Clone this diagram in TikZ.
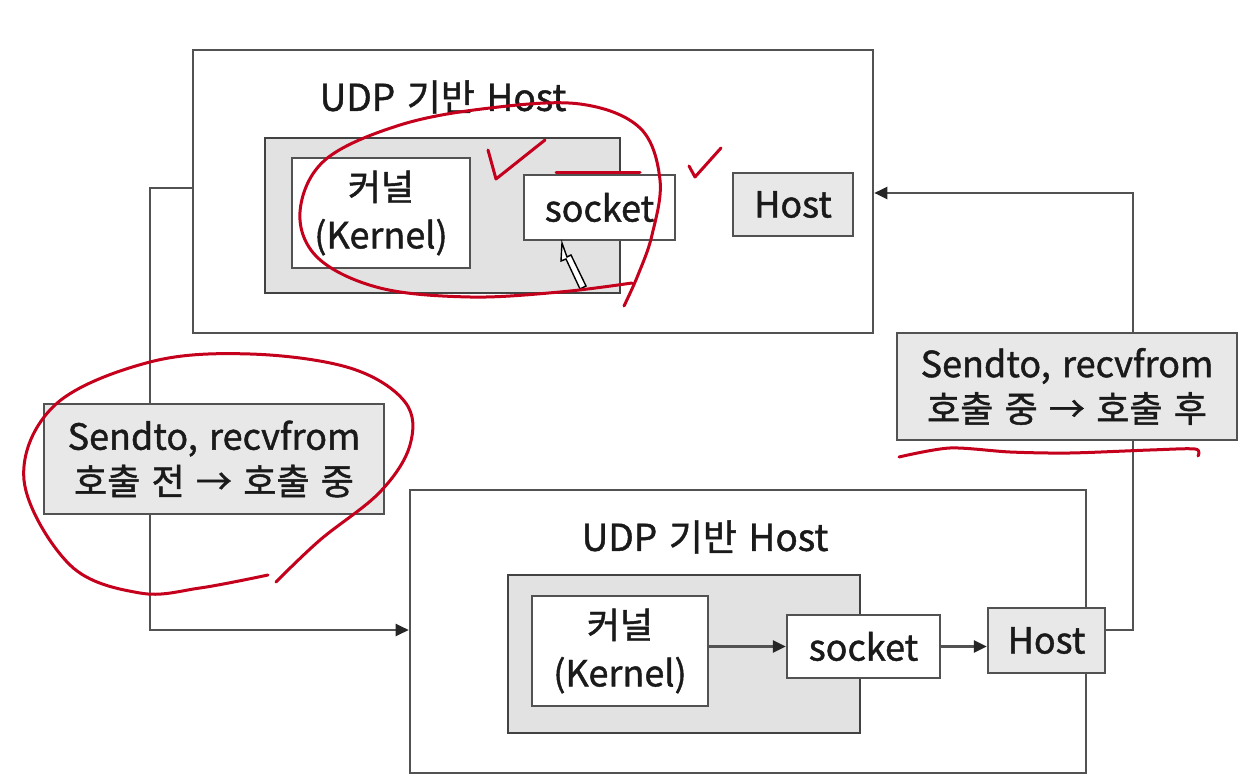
\documentclass[tikz,border=0pt]{standalone}
\usepackage{fontspec}
\setmainfont{Noto Sans CJK KR}[FakeBold=1.2, WordSpace=1.4]
\usetikzlibrary{arrows.meta}
\definecolor{edge}{HTML}{525252}
\definecolor{boxgray}{HTML}{E8E8E8}
\definecolor{areagray}{HTML}{E2E2E2}
\definecolor{ink}{HTML}{C4001C}
\definecolor{txt}{HTML}{1A1A1A}
\tikzset{
  outerbox/.style={draw=edge, line width=2.6pt, fill=white, inner sep=0pt},
  areabox/.style={draw=edge!80!black, line width=2.6pt, fill=areagray, inner sep=0pt},
  whitebox/.style={draw=edge, line width=2.3pt, fill=white, inner sep=0pt, text=txt,
    font=\fontsize{36}{48}\selectfont, align=center},
  graybox/.style={draw=edge, line width=2.3pt, fill=boxgray, inner sep=0pt, text=txt,
    font=\fontsize{36}{48}\selectfont, align=center},
  labelbox/.style={draw=edge, line width=2.3pt, fill=boxgray, inner sep=0pt, text=txt,
    font=\fontsize{36}{45}\selectfont, align=center},
  titletext/.style={inner sep=0pt, text=txt, font=\fontsize{37}{42}\selectfont},
  conn/.style={draw=edge, line width=2.5pt},
  arr/.style={conn, -{Triangle[length=13pt,width=12pt,color=black!85,fill=black!85]}},
  redink/.style={draw=ink, line width=3pt, line cap=round, line join=round}
}
\begin{document}
\begin{tikzpicture}[x=1pt,y=-1pt]
\useasboundingbox (0,0) rectangle (1243,783);
\fill[white] (0,0) rectangle (1243,783);

% connector corner coordinates
\coordinate (lTop) at (150,188);
\coordinate (lBot) at (150,630);
\coordinate (rTop) at (1133,193);
\coordinate (rBot) at (1133,630);

% ---------- top host ----------
\node[outerbox, minimum width=680pt, minimum height=283pt] (topbox) at (533,191.5) {};
\node[titletext] (title1) at (443,97) {UDP 기반 Host};
\node[areabox, minimum width=355pt, minimum height=155pt] (area1) at (442.5,215.5) {};
\node[whitebox, minimum width=178pt, minimum height=110pt] (kern1) at (381,213) {커널\\(Kernel)};
\node[whitebox, minimum width=151pt, minimum height=65pt] (sock1) at (599.5,207.5) {socket};
\node[graybox, minimum width=120pt, minimum height=63pt] (host1) at (793,204.5) {Host};

% ---------- bottom host ----------
\node[outerbox, minimum width=676pt, minimum height=283pt] (botbox) at (748,631.5) {};
\node[titletext] (title2) at (705,537) {UDP 기반 Host};
\node[areabox, minimum width=352pt, minimum height=158pt] (area2) at (684,654) {};
\node[whitebox, minimum width=176pt, minimum height=110pt] (kern2) at (620,651) {커널\\(Kernel)};
\node[whitebox, minimum width=153pt, minimum height=63pt] (sock2) at (863.5,646.5) {socket};
\node[graybox, minimum width=117pt, minimum height=65pt] (host2) at (1046.5,640.5) {Host};

% ---------- connectors ----------
\draw[arr] (lTop -| topbox.west) -- (lTop) -- (lBot) -- (lBot -| botbox.west);
\draw[arr] (rBot -| host2.east) -- (rBot) -- (rTop) -- (rTop -| topbox.east);
\draw[arr] (kern2.east |- sock2.west) -- (sock2.west);
\draw[arr] (sock2.east) -- (host2.west |- sock2.east);

% ---------- labels ----------
\node[labelbox, minimum width=340pt, minimum height=110pt] (lab1) at (214,459)
  {Sendto, recvfrom\\호출 전 → 호출 중};
\node[labelbox, minimum width=340pt, minimum height=107pt] (lab2) at (1067,386.5)
  {Sendto, recvfrom\\호출 중 → 호출 후};

% ---------- pen cursor ----------
\draw[black, line width=1.4pt, fill=white] (562,243) -- (567,257) -- (571,255) -- (586,286) -- (580,289) -- (566,259) -- (561,261) -- cycle;

% ---------- red handwriting ----------
\draw[redink] plot[smooth, tension=0.6] coordinates {(632,283) (560,292) (470,297) (380,288) (318,258) (300,212) (325,160) (400,125) (490,108) (580,104) (640,128) (660,180) (652,235) (638,275) (624,306)};
\draw[redink] (488,150) -- (496,179) -- (545,140);
\draw[redink] (689,166) -- (695,177) -- (721,148);
\draw[redink] (556,173) -- (640,173);
\draw[redink] plot[smooth, tension=0.6] coordinates {(268,575) (200,588) (140,593) (70,565) (24,480) (55,405) (150,362) (250,354) (350,368) (405,402) (410,445) (380,492) (320,540) (276,582)};
\draw[redink] plot[smooth, tension=0.5] coordinates {(899,457) (950,448) (1010,452) (1070,453) (1150,450) (1195,449) (1198,456)};
\end{tikzpicture}
\end{document}
